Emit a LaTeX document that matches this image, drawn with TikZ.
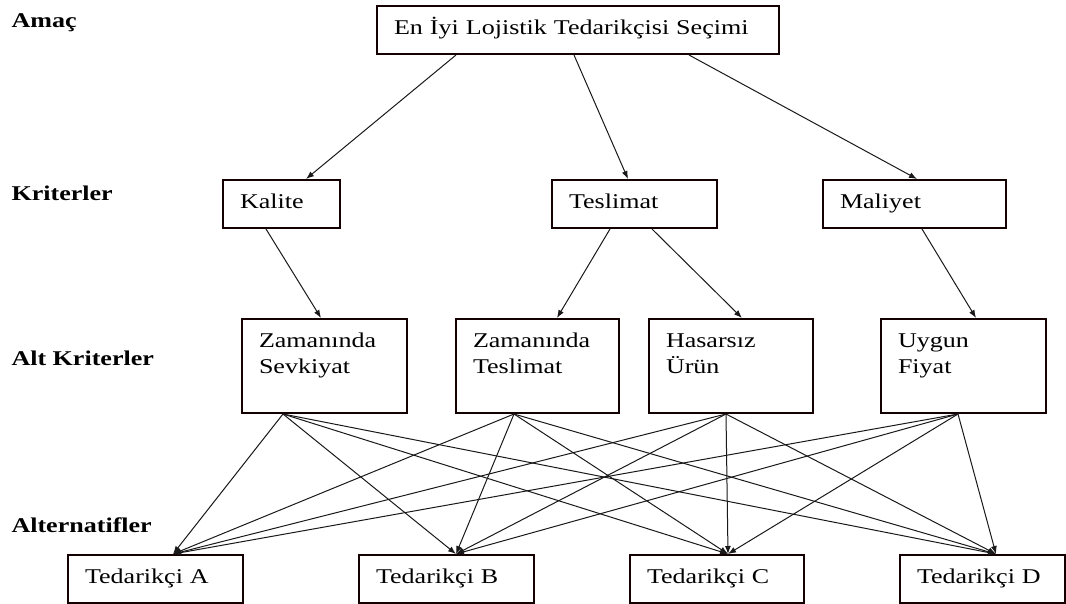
\documentclass[tikz,border=0pt]{standalone}
\usepackage{fontspec}
\setmainfont{Liberation Serif}[FakeStretch=1.24]
\usepackage{tikz}
\usetikzlibrary{arrows.meta}

\tikzset{
	kutu/.style={draw=black!80!red!40!black, line width=2pt, anchor=north west, align=left,
		inner xsep=17pt, inner ysep=14pt, text height=14pt, text depth=6pt},
	altkutu/.style={kutu, text depth=52pt},
	seviye/.style={anchor=base west, font=\fontsize{21}{26}\selectfont\bfseries},
	ok/.style={-{Latex[length=8pt,width=6pt]}, line width=1pt, black!90}
}

\begin{document}
\begin{tikzpicture}
	[x=1pt, y=-1pt, font=\fontsize{21}{26}\selectfont]
	\useasboundingbox (0,0) rectangle (1066,603);
	% seviyeler
	\node[seviye] (amac) at (8,27) {Amaç};
	\node[seviye] (krit) at (8,200) {Kriterler};
	\node[seviye] (altkrit) at (8,365) {Alt Kriterler};
	\node[seviye] (alter) at (8,532) {Alternatifler};
	% amac
	\node[kutu, text width=368pt] (amacbox) at (376,5) {En İyi Lojistik Tedarikçisi Seçimi};
	% kriterler
	\node[kutu, text width=83pt] (kalite) at (222,179) {Kalite};
	\node[kutu, text width=131pt] (teslimat) at (551,179) {Teslimat};
	\node[kutu, text width=149pt] (maliyet) at (822,179) {Maliyet};
	% alt kriterler
	\node[altkutu, text width=131pt] (zs) at (241,318) {Zamanında\\Sevkiyat};
	\node[altkutu, text width=129pt] (zt) at (455,318) {Zamanında\\Teslimat};
	\node[altkutu, text width=130pt] (has) at (648,318) {Hasarsız\\Ürün};
	\node[altkutu, text width=131pt] (uyg) at (880,318) {Uygun\\Fiyat};
	% alternatifler
	\node[kutu, text width=141pt] (tA) at (67,554) {Tedarikçi A};
	\node[kutu, text width=141pt] (tB) at (358,554) {Tedarikçi B};
	\node[kutu, text width=140pt] (tC) at (629,554) {Tedarikçi C};
	\node[kutu, text width=131pt] (tD) at (899,554) {Tedarikçi D};

	\draw[ok] ([xshift=-122pt]amacbox.south) -- ([xshift=24.5pt]kalite.north);
	\draw[ok] ([xshift=-4pt]amacbox.south) -- ([xshift=-6.5pt]teslimat.north);
	\draw[ok] ([xshift=111pt]amacbox.south) -- ([xshift=2.5pt]maliyet.north);

	\draw[ok] ([xshift=-15.5pt]kalite.south) -- ([xshift=-3.5pt]zs.north);
	\draw[ok] ([xshift=-24.5pt]teslimat.south) -- ([xshift=19.5pt]zt.north);
	\draw[ok] ([xshift=17.5pt]teslimat.south) -- ([xshift=11pt]has.north);
	\draw[ok] ([xshift=7.5pt]maliyet.south) -- ([xshift=12.5pt]uyg.north);

	\coordinate (zs-o) at ([xshift=-41.5pt]zs.south);
	\coordinate (zt-o) at ([xshift=-23.5pt]zt.south);
	\coordinate (has-o) at ([xshift=-5pt]has.south);
	\coordinate (uyg-o) at ([xshift=-5.5pt]uyg.south);
	\coordinate (tA-i) at ([xshift=17.5pt]tA.north);
	\coordinate (tB-i) at ([xshift=9.5pt]tB.north);
	\coordinate (tC-i) at ([xshift=11pt]tC.north);
	\coordinate (tD-i) at ([xshift=13.5pt]tD.north);
	\foreach \s in {zs,zt,has,uyg}
		\foreach \t in {tA,tB,tC,tD}
			\draw[ok] (\s-o) -- (\t-i);
\end{tikzpicture}
\end{document}
